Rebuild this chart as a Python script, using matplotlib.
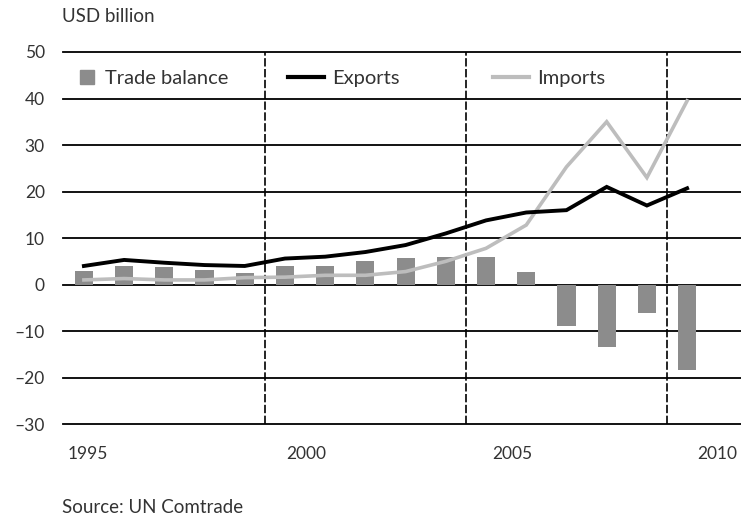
import numpy as np
import matplotlib.pyplot as plt
from matplotlib.lines import Line2D

years = np.arange(1995, 2011)
exports = [4.0, 5.3, 4.7, 4.2, 4.0, 5.6, 6.0, 7.0, 8.5, 11.0, 13.8, 15.5, 16.0, 21.0, 17.0, 20.7]
imports = [1.0, 1.3, 1.0, 1.0, 1.5, 1.6, 2.0, 2.0, 2.8, 5.0, 7.8, 12.8, 25.3, 35.0, 23.0, 39.5]
balance = [3.0, 4.0, 3.7, 3.2, 2.5, 4.0, 4.0, 5.1, 5.8, 6.0, 6.0, 2.6, -8.8, -13.5, -6.2, -18.3]

yticks = [50, 40, 30, 20, 10, 0, -10, -20, -30]
ytick_labels = ['50', '40', '30', '20', '10', '0', '–10', '–20', '–30']
xtick_labels = ['1995', '2000', '2005', '2010']
period_breaks = [1999.5, 2004.5, 2009.5]

plt.rcParams['font.family'] = ['Lato', 'DejaVu Sans']
txt = '#333333'
bar_col = '#8c8c8c'
imp_col = '#bdbdbd'

fig = plt.figure(figsize=(7.41, 5.23), dpi=100)
ax = fig.add_axes([0.085, 0.189, 0.915, 0.7116])

for y in yticks:
    ax.axhline(y, color='black', lw=1.3, zorder=1, clip_on=False)
for x in period_breaks:
    ax.axvline(x, color='black', lw=1.2, ls=(0, (5, 1.5)), zorder=1, clip_on=False)

ax.bar(years, balance, width=0.45, color=bar_col, zorder=2)
ax.plot(years, imports, color=imp_col, lw=2.6, zorder=3, solid_joinstyle='miter')
ax.plot(years, exports, color='black', lw=2.8, zorder=4, solid_joinstyle='miter')

ax.set_xlim(1994.48, 2011.34)
ax.set_ylim(-30, 50)
for s in ax.spines.values():
    s.set_visible(False)
ax.set_yticks(yticks)
ax.set_yticklabels(ytick_labels)
# year labels sit a bit off the bars, as in the source
ax.set_xticks([1995.1, 2000.52, 2005.65, 2010.75])
ax.set_xticklabels(xtick_labels)
ax.tick_params(axis='y', length=0, pad=13, labelsize=12.5, labelcolor=txt)
ax.tick_params(axis='x', length=0, pad=16, labelsize=12.5, labelcolor=txt)

leg_kw = dict(loc='center left', frameon=False, borderpad=0, borderaxespad=0,
              handletextpad=0.4, fontsize=14.5, labelcolor=txt)
h1 = Line2D([], [], marker='s', ls='none', color=bar_col, markersize=9.5)
l1 = ax.legend([h1], ['Trade balance'], bbox_to_anchor=(0.021, 0.93), handlelength=1.0, **leg_kw)
ax.add_artist(l1)
h2 = Line2D([], [], color='black', lw=3)
l2 = ax.legend([h2], ['Exports'], bbox_to_anchor=(0.332, 0.93), handlelength=1.8, **leg_kw)
ax.add_artist(l2)
h3 = Line2D([], [], color=imp_col, lw=3)
ax.legend([h3], ['Imports'], bbox_to_anchor=(0.634, 0.93), handlelength=1.8, **leg_kw)

fig.text(0.084, 0.968, 'USD billion', fontsize=13.5, color=txt, va='center')
fig.text(0.084, 0.029, 'Source: UN Comtrade', fontsize=13.5, color=txt, va='center')

fig.savefig('out.png', dpi=100)
